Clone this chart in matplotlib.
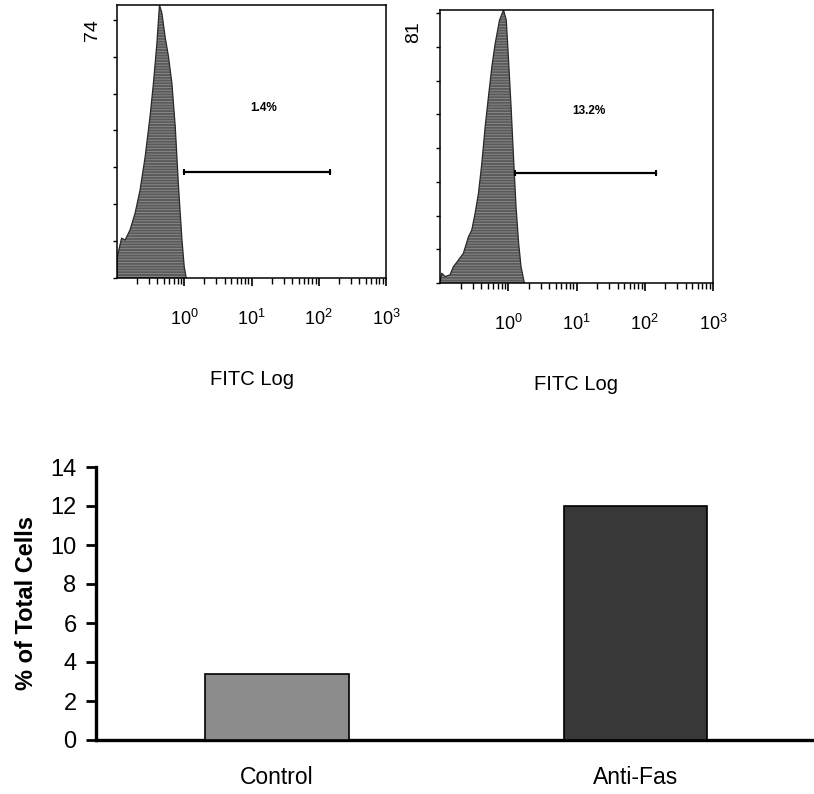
import matplotlib
matplotlib.use("Agg")
import matplotlib.pyplot as plt
from matplotlib.ticker import LogLocator, NullFormatter, FixedLocator

plt.rcParams['font.family'] = ['Liberation Sans', 'DejaVu Sans']
plt.rcParams['mathtext.fontset'] = 'custom'
plt.rcParams['mathtext.rm'] = 'Liberation Sans'
plt.rcParams['hatch.linewidth'] = 0.6

# Flow cytometry histograms (FITC intensity vs. event count)
control_fitc = [0.100, 0.101, 0.117, 0.132, 0.156, 0.186, 0.220, 0.262, 0.311, 0.348,
                0.392, 0.428, 0.465, 0.520, 0.583, 0.655, 0.735, 0.822, 0.925, 1.00, 1.07]
control_counts = [0, 5.8, 10.8, 10.3, 13.0, 17.6, 23.8, 32.8, 44.0, 52.8,
                  63.6, 74.0, 71.8, 65.3, 60.0, 52.8, 41.0, 24.7, 10.3, 3.0, 0]
control_max = 74
control_gate = [1.0, 145]
control_gate_level = 28.7
control_pct = "1.4%"

antifas_fitc = [0.100, 0.106, 0.119, 0.140, 0.157, 0.186, 0.220, 0.261, 0.292, 0.327,
                0.366, 0.410, 0.459, 0.513, 0.575, 0.644, 0.745, 0.853, 0.935, 1.01,
                1.10, 1.20, 1.30, 1.42, 1.54, 1.72]
antifas_counts = [0, 2.9, 1.9, 2.4, 4.8, 6.8, 8.8, 13.7, 15.7, 20.7,
                  26.6, 35.5, 46.4, 55.3, 64.2, 71.1, 78.0, 81.0, 78.0, 66.2,
                  52.3, 36.5, 22.6, 11.8, 4.8, 0]
antifas_max = 81
antifas_gate = [1.26, 145]
antifas_gate_level = 32.6
antifas_pct = "13.2%"

decade_ticks = [1, 10, 100, 1000]
decade_labels = [r'$10^{0}$', r'$10^{1}$', r'$10^{2}$', r'$10^{3}$']

# Bar chart summary
groups = ["Control", "Anti-Fas"]
percent_cells = [3.4, 12.0]
bar_colors = ["#8c8c8c", "#383838"]
y_ticks = [0, 2, 4, 6, 8, 10, 12, 14]

W, H = 814, 794
fig = plt.figure(figsize=(W / 100, H / 100), dpi=100)


def histogram_panel(rect, fitc, counts, ymax, gate, gate_level, pct, label_pos):
    ax = fig.add_axes(rect)
    ax.set_xscale('log')
    ax.set_xlim(0.1, 1000)
    ax.set_ylim(0, ymax)
    ax.fill_between(fitc, counts, 0, facecolor='#5a5a5a', edgecolor='#8e8e8e',
                    hatch='------', linewidth=0)
    ax.plot(fitc, counts, color='#2a2a2a', lw=0.9)
    ax.plot(gate, [gate_level, gate_level], color='black', lw=1.6)
    ax.plot(gate, [gate_level, gate_level], ls='none', marker='|',
            color='black', ms=5, mew=1.5)
    ax.text(15, label_pos, pct, fontsize=8.5, fontweight='bold',
            ha='center', va='center')
    ax.xaxis.set_major_locator(FixedLocator(decade_ticks))
    ax.set_xticklabels(decade_labels, fontsize=13)
    ax.xaxis.set_minor_locator(LogLocator(base=10, subs=range(2, 10), numticks=20))
    ax.xaxis.set_minor_formatter(NullFormatter())
    ax.tick_params(axis='x', which='major', direction='out', length=6, width=1.2, pad=16)
    ax.tick_params(axis='x', which='minor', direction='out', length=4, width=1.0)
    ax.set_yticks(range(0, int(ymax) + 1, 10))
    ax.set_yticklabels([])
    ax.tick_params(axis='y', direction='out', length=3, width=1.0)
    for s in ax.spines.values():
        s.set_linewidth(1.1)
    ax.set_xlabel('FITC Log', fontsize=14.5, labelpad=30)
    return ax


ax1 = histogram_panel([117 / W, 1 - 278 / H, 269 / W, 273 / H],
                      control_fitc, control_counts, control_max,
                      control_gate, control_gate_level, control_pct, 46)
ax1.text(-0.09, 0.908, str(control_max), transform=ax1.transAxes, rotation=90,
         fontsize=14, ha='center', va='center')

ax2 = histogram_panel([440 / W, 1 - 283 / H, 273 / W, 273 / H],
                      antifas_fitc, antifas_counts, antifas_max,
                      antifas_gate, antifas_gate_level, antifas_pct, 51)
ax2.text(-0.095, 0.92, str(antifas_max), transform=ax2.transAxes, rotation=90,
         fontsize=14, ha='center', va='center')

# Summary bar chart
ax3 = fig.add_axes([96 / W, 1 - 740 / H, 718 / W, 273 / H])
ax3.bar(range(len(groups)), percent_cells, width=0.40, color=bar_colors,
        edgecolor='black', linewidth=1.2, zorder=3)
ax3.set_xlim(-0.505, 1.498)
ax3.set_ylim(0, 14)
ax3.set_yticks(y_ticks)
ax3.set_yticklabels([str(t) for t in y_ticks], fontsize=17)
ax3.set_xticks(range(len(groups)))
ax3.set_xticklabels(groups, fontsize=16.5)
ax3.tick_params(axis='x', length=0, pad=19)
ax3.tick_params(axis='y', direction='out', length=7, width=2, pad=7)
for side in ('top', 'right'):
    ax3.spines[side].set_visible(False)
for side in ('left', 'bottom'):
    ax3.spines[side].set_linewidth(2.4)
ax3.set_ylabel('% of Total Cells', fontsize=17, fontweight='bold', labelpad=9)

fig.savefig('out.png', dpi=100)
